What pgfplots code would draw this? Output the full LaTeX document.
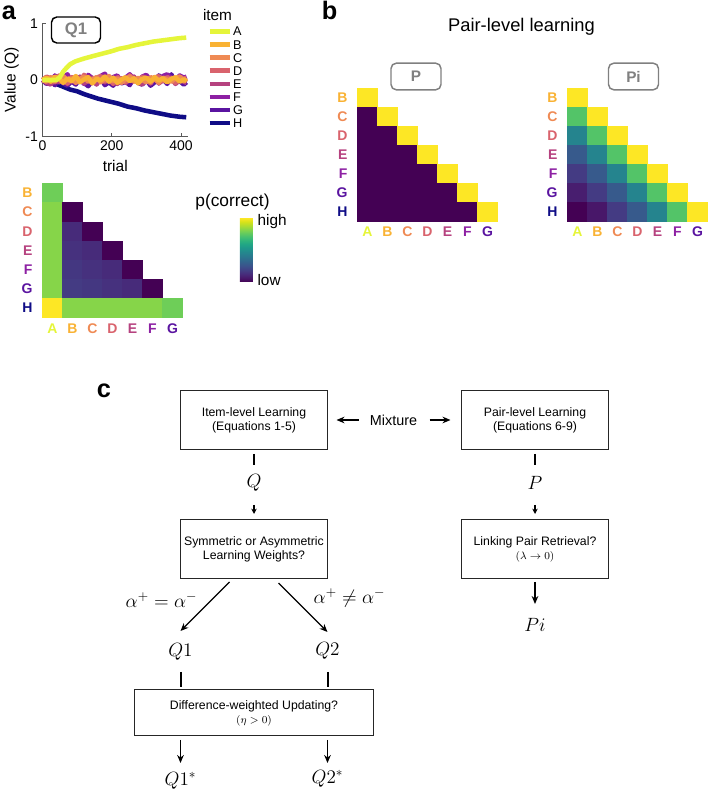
\documentclass[border=0pt]{standalone}
\usepackage{pgfplots}
\pgfplotsset{compat=1.18}
\usepackage{pgfplotstable}
\usepackage{fontspec}
\setmainfont{Liberation Sans}
\usetikzlibrary{arrows.meta}

\definecolor{cA}{RGB}{229,245,58}
\definecolor{cB}{RGB}{249,178,51}
\definecolor{cC}{RGB}{239,138,84}
\definecolor{cD}{RGB}{217,99,109}
\definecolor{cE}{RGB}{182,66,127}
\definecolor{cF}{RGB}{141,32,163}
\definecolor{cG}{RGB}{90,20,160}
\definecolor{cH}{RGB}{15,12,134}
\definecolor{boxgray}{RGB}{128,128,128}

\pgfplotstableread{
t A
0 0
40 0
50 0.05
60 0.15
70 0.22
80 0.28
95 0.33
120 0.38
150 0.43
175 0.47
200 0.51
220 0.55
245 0.58
270 0.62
295 0.65
320 0.68
345 0.70
370 0.72
395 0.74
415 0.75
}\Adat

\pgfplotstableread{
t H
0 0
20 -0.03
40 -0.07
60 -0.12
80 -0.17
100 -0.20
120 -0.25
140 -0.29
160 -0.33
180 -0.36
200 -0.39
220 -0.42
245 -0.47
270 -0.50
295 -0.54
320 -0.57
345 -0.60
370 -0.63
395 -0.65
415 -0.66
}\Hdat

\pgfplotstableread{
t B C D E F G
0 0 0 0 0 0 0
12 0.04 -0.03 0.06 -0.05 0.03 -0.07
24 -0.03 0.05 0.02 -0.08 -0.06 -0.03
36 0.06 -0.02 -0.04 0.02 0.08 -0.09
48 0.02 0.04 0.08 -0.04 -0.02 0.02
60 -0.05 0.07 0.03 0.05 0.05 -0.06
72 0.03 -0.01 -0.06 -0.07 0.10 -0.10
84 -0.02 0.03 0.05 0.01 -0.04 -0.02
96 0.07 -0.05 0.01 -0.03 0.06 -0.08
108 -0.04 0.02 -0.03 0.06 0.02 0.03
120 0.01 0.06 0.09 -0.06 -0.07 -0.05
132 0.05 -0.03 0.02 -0.01 0.09 -0.11
144 -0.06 0.01 -0.05 0.04 0.03 -0.01
156 0.02 0.05 0.04 -0.08 -0.03 -0.07
168 -0.01 -0.04 0.07 0.02 0.07 0.04
180 0.06 0.02 -0.02 -0.04 0.11 -0.09
192 -0.03 0.07 0.03 0.05 -0.02 -0.04
204 0.04 -0.02 -0.07 -0.02 0.05 -0.10
216 -0.05 0.03 0.05 -0.07 0.08 0.01
228 0.01 -0.05 0.02 0.03 -0.05 -0.06
240 0.05 0.01 -0.04 -0.05 0.04 -0.03
252 -0.02 0.06 0.08 0.01 0.10 -0.09
264 0.03 -0.03 0.01 0.06 0.01 0.05
276 -0.06 0.04 -0.03 -0.04 -0.04 -0.05
288 0.02 0.00 0.06 -0.08 0.06 -0.08
300 0.04 -0.04 0.03 0.02 0.09 0.00
312 -0.03 0.05 -0.06 -0.03 -0.01 -0.10
324 0.05 0.02 0.04 0.05 0.04 -0.04
336 -0.01 -0.05 0.07 -0.06 -0.06 0.08
348 0.03 0.04 -0.02 0.00 0.07 0.02
360 -0.04 0.01 0.05 -0.04 0.10 -0.07
372 0.02 -0.03 0.01 0.04 0.02 0.10
384 0.05 0.03 -0.05 -0.07 -0.03 -0.05
396 -0.03 0.06 0.06 0.01 0.08 -0.02
408 0.01 -0.02 0.02 -0.03 0.04 -0.08
416 -0.02 0.02 0.04 -0.05 0.06 -0.04
}\noise

% heatmap of panel a (Q1): x = column (A..G), y = row (B..H)
\pgfplotstableread{
x y c
0 0 0.78
0 1 0.82
1 1 0.00
0 2 0.82
1 2 0.12
2 2 0.00
0 3 0.82
1 3 0.14
2 3 0.12
3 3 0.00
0 4 0.82
1 4 0.16
2 4 0.14
3 4 0.12
4 4 0.00
0 5 0.82
1 5 0.17
2 5 0.16
3 5 0.14
4 5 0.12
5 5 0.00
0 6 1.00
1 6 0.82
2 6 0.82
3 6 0.82
4 6 0.82
5 6 0.82
6 6 0.78
}\Qheat

\pgfplotstableread{
x y c
0 0 1
0 1 0
1 1 1
0 2 0
1 2 0
2 2 1
0 3 0
1 3 0
2 3 0
3 3 1
0 4 0
1 4 0
2 4 0
3 4 0
4 4 1
0 5 0
1 5 0
2 5 0
3 5 0
4 5 0
5 5 1
0 6 0
1 6 0
2 6 0
3 6 0
4 6 0
5 6 0
6 6 1
}\Pheat

\pgfplotstableread{
x y c
0 0 1
0 1 0.73
1 1 1
0 2 0.45
1 2 0.73
2 2 1
0 3 0.28
1 3 0.45
2 3 0.73
3 3 1
0 4 0.17
1 4 0.28
2 4 0.45
3 4 0.73
4 4 1
0 5 0.08
1 5 0.17
2 5 0.28
3 5 0.45
4 5 0.73
5 5 1
0 6 0.00
1 6 0.06
2 6 0.17
3 6 0.28
4 6 0.45
5 6 0.73
6 6 1
}\Piheat

\pgfplotsset{
  hm/.style={
    scale only axis, width=105pt,
    xmin=-0.5, xmax=6.5, ymin=-0.5, ymax=6.5, y dir=reverse,
    axis line style={draw=none}, major tick length=0pt,
    xtick={0,...,6}, ytick={0,...,6},
    xticklabels={\textcolor{cA}{A},\textcolor{cB}{B},\textcolor{cC}{C},\textcolor{cD}{D},\textcolor{cE}{E},\textcolor{cF}{F},\textcolor{cG}{G}},
    yticklabels={\textcolor{cB}{B},\textcolor{cC}{C},\textcolor{cD}{D},\textcolor{cE}{E},\textcolor{cF}{F},\textcolor{cG}{G},\textcolor{cH}{H}},
    tick label style={font=\bfseries\fontsize{10.5}{12}\selectfont},
    yticklabel style={xshift=-4pt},
    xticklabel style={yshift=-1pt},
    clip=false, colormap/viridis, point meta min=0, point meta max=1,
  },
  hmcells/.style={scatter, only marks, mark=square*, mark size=7.5pt,
    scatter/use mapped color={draw=mapped color, fill=mapped color},
    point meta=explicit, mark options={line width=0.2pt, yscale=#1}},
}

\begin{document}
\begin{tikzpicture}
\begin{scope}[x=0.75pt,y=-0.75pt,shift={(0pt,594.75pt)}]
\path[use as bounding box] (0,0) rectangle (706,793);
\coordinate (pa1) at (41,136.5);
\coordinate (pa2) at (41,183.3);
\coordinate (pb1) at (356,88);
\coordinate (pb2) at (566,88);

\node[draw=black, line width=1.1pt, rounded corners=4pt, minimum width=36.75pt, minimum height=19.5pt,
  text=boxgray, font=\bfseries\fontsize{12.5}{14}\selectfont, inner sep=0pt] at (74.5,30) {Q1};
\node[font=\fontsize{11.5}{13}\selectfont, inner sep=0pt] at (216,15.5) {item};
\node[font=\fontsize{13}{15}\selectfont, inner sep=0pt] at (231,202) {p(correct)};

% panel b texts
\node[font=\fontsize{13.75}{16}\selectfont, inner sep=0pt] at (520,27) {Pair-level learning};
\node[draw=boxgray, line width=1.1pt, rounded corners=4pt, minimum width=37.5pt, minimum height=20pt,
  text=boxgray, font=\bfseries\fontsize{11.5}{13}\selectfont, inner sep=0pt] at (414.5,76.5) {P};
\node[draw=boxgray, line width=1.1pt, rounded corners=4pt, minimum width=37.5pt, minimum height=20pt,
  text=boxgray, font=\bfseries\fontsize{11.5}{13}\selectfont, inner sep=0pt] at (632,76.5) {Pi};

% panel letters
\node[anchor=base west, inner sep=0pt, font=\bfseries\fontsize{19}{20}\selectfont] at (0,20) {a};
\node[anchor=base west, inner sep=0pt, font=\bfseries\fontsize{19}{20}\selectfont] at (320,20) {b};
\node[anchor=base west, inner sep=0pt, font=\bfseries\fontsize{19}{20}\selectfont] at (95,398) {c};

% panel c: flowchart
\tikzset{fbox/.style={draw=black!85, line width=0.75pt, align=center, inner sep=0pt,
    font=\fontsize{9.2}{10.5}\selectfont},
  arr/.style={line width=1pt, -{Stealth[length=6pt,width=5pt]}},
  bar/.style={line width=1.5pt},
  mth/.style={inner sep=0pt, font=\fontsize{14}{16}\selectfont}}
\node[fbox, minimum width=110.25pt, minimum height=44.25pt] at (252.5,420.5) {Item-level Learning\\(Equations 1-5)};
\node[fbox, minimum width=110.25pt, minimum height=44.25pt] at (533.5,420.5) {Pair-level Learning\\(Equations 6-9)};
\node[inner sep=0pt, font=\fontsize{10.8}{12}\selectfont] at (392,420) {Mixture};
\draw[arr] (357,420) -- (335,420);
\draw[arr] (428,420) -- (449,420);

\draw[bar] (252.5,454) -- (252.5,465);
\node[mth] at (252.5,483) {$Q$};
\draw[line width=1pt, -{Stealth[length=4pt,width=4pt]}] (252.5,505) -- (252.5,514);
\node[fbox, minimum width=110.25pt, minimum height=44.25pt] at (252.5,549) {Symmetric or Asymmetric\\Learning Weights?};

\draw[bar] (533.5,454) -- (533.5,465);
\node[mth] at (533.5,483) {$P$};
\draw[line width=1pt, -{Stealth[length=4pt,width=4pt]}] (533.5,505) -- (533.5,514);
\node[fbox, minimum width=110.25pt, minimum height=44.25pt] at (533.5,549) {Linking Pair Retrieval?\\{\fontsize{8}{9}\selectfont$(\lambda\rightarrow 0)$}};
\draw[arr] (533.5,582) -- (533.5,604);
\node[mth] at (533.5,625) {$Pi$};

\draw[arr] (228,582) -- (179,631);
\draw[arr] (277,583) -- (326,632);
\node[mth] at (160,600) {$\alpha^{+}=\alpha^{-}$};
\node[mth] at (348,598) {$\alpha^{+}\neq\alpha^{-}$};
\node[mth] at (179,652) {$Q1$};
\node[mth] at (326,651) {$Q2$};
\draw[bar] (179,672) -- (179,687);
\draw[bar] (326,672) -- (326,687);
\node[fbox, minimum width=179.25pt, minimum height=34.5pt] at (252.5,713) {Difference-weighted Updating?\\{\fontsize{8.5}{9}\selectfont$(\eta>0)$}};
\draw[arr] (179,740) -- (179,763);
\draw[arr] (326,740) -- (326,763);
\node[mth] at (179,781) {$Q1^{*}$};
\node[mth] at (326,779) {$Q2^{*}$};
\end{scope}

% ---------- panel a: value trajectories ----------
\begin{axis}[
  at={(pa1)}, anchor=south west, scale only axis,
  width=109.1pt, height=84.75pt,
  xmin=0, xmax=420, ymin=-1, ymax=1,
  axis x line*=bottom, axis y line*=left,
  axis line style={black!65, line width=0.5pt},
  xtick={0,200,400}, xticklabels={0,200,400},
  ytick={-1,0,1}, yticklabels={-1,0,1},
  tick align=inside, major tick length=2.5pt,
  tick style={black!65, line width=0.5pt},
  tick label style={font=\fontsize{10.5}{12}\selectfont},
  xlabel={trial}, ylabel={Value (Q)},
  label style={font=\fontsize{11.6}{13}\selectfont},
  ylabel style={yshift=-2pt},
  clip=false,
  every axis plot/.append style={line width=3.4pt, line join=round},
  reverse legend,
  legend image code/.code={\draw[#1, line width=3.2pt, line cap=butt] (0pt,0pt) -- (15pt,0pt);},
  legend style={at={(1.132,0.985)}, anchor=north west, draw=none, fill=none,
    font=\fontsize{9.5}{10}\selectfont, inner sep=0pt, row sep=0.9pt,
    nodes={inner sep=1pt, text height=6.9pt, text depth=0pt}},
  legend cell align=left,
]
\addplot[cH] table[x=t, y=H] {\Hdat};
\addplot[cG] table[x=t, y=G] {\noise};
\addplot[cF] table[x=t, y=F] {\noise};
\addplot[cE] table[x=t, y=E] {\noise};
\addplot[cD] table[x=t, y=D] {\noise};
\addplot[cC] table[x=t, y=C] {\noise};
\addplot[cB] table[x=t, y=B] {\noise};
\addplot[cA] table[x=t, y=A] {\Adat};
\legend{H,G,F,E,D,C,B,A}
\end{axis}

% ---------- panel a: heatmap ----------
\begin{axis}[hm, at={(pa2)}, anchor=north west, height=100.65pt,
  colorbar,
  colorbar style={scale only axis, width=9.75pt, height=48pt,
    at={(parent axis.north east)}, anchor=north west, xshift=34.5pt, yshift=-26pt,
    y dir=normal,
    ytick={0.03,0.95}, yticklabels={low,high}, major tick length=0pt,
    axis line style={draw=none},
    yticklabel style={font=\fontsize{11.5}{13}\selectfont, xshift=0pt}},
]
\addplot[hmcells=0.9586] table[x=x, y=y, meta=c] {\Qheat};
\end{axis}

% ---------- panel b heatmaps ----------
\begin{axis}[hm, at={(pb1)}, anchor=north west, height=99.75pt]
\addplot[hmcells=0.95] table[x=x, y=y, meta=c] {\Pheat};
\end{axis}
\begin{axis}[hm, at={(pb2)}, anchor=north west, height=99.75pt]
\addplot[hmcells=0.95] table[x=x, y=y, meta=c] {\Piheat};
\end{axis}
\end{tikzpicture}
\end{document}
